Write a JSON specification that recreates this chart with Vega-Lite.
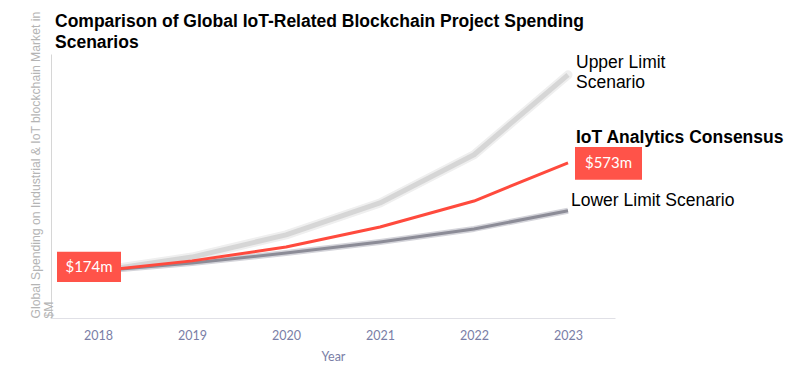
{
  "$schema": "https://vega.github.io/schema/vega-lite/v6.json",
  "autosize": "none",
  "width": 564,
  "height": 264,
  "padding": {"left": 51, "top": 54, "right": 185, "bottom": 47},
  "background": "white",
  "title": {
    "text": ["Comparison of Global IoT-Related Blockchain Project Spending", "Scenarios"],
    "anchor": "start",
    "frame": "group",
    "font": "Liberation Sans",
    "fontSize": 17.5,
    "fontWeight": "bold",
    "color": "#000000",
    "dx": 4,
    "dy": 29,
    "offset": -11,
    "lineHeight": 21
  },
  "config": {"view": {"stroke": null}},
  "datasets": {
    "series": [
      {"year": 2018, "value": 174, "scenario": "Upper"},
      {"year": 2019, "value": 225, "scenario": "Upper"},
      {"year": 2020, "value": 307, "scenario": "Upper"},
      {"year": 2021, "value": 425, "scenario": "Upper"},
      {"year": 2022, "value": 603, "scenario": "Upper"},
      {"year": 2023, "value": 898, "scenario": "Upper"},
      {"year": 2018, "value": 174, "scenario": "Lower"},
      {"year": 2019, "value": 203, "scenario": "Lower"},
      {"year": 2020, "value": 240, "scenario": "Lower"},
      {"year": 2021, "value": 281, "scenario": "Lower"},
      {"year": 2022, "value": 329, "scenario": "Lower"},
      {"year": 2023, "value": 396, "scenario": "Lower"},
      {"year": 2018, "value": 174, "scenario": "Consensus"},
      {"year": 2019, "value": 211, "scenario": "Consensus"},
      {"year": 2020, "value": 262, "scenario": "Consensus"},
      {"year": 2021, "value": 336, "scenario": "Consensus"},
      {"year": 2022, "value": 432, "scenario": "Consensus"},
      {"year": 2023, "value": 573, "scenario": "Consensus"}
    ],
    "labels": [
      {"year": 2023, "value": 898, "label": "Upper Limit\nScenario", "kind": "upper"},
      {"year": 2023, "value": 573, "label": "IoT Analytics Consensus", "kind": "consensus"},
      {"year": 2023, "value": 396, "label": "Lower Limit Scenario", "kind": "lower"},
      {"year": 2018, "value": 174, "label": "$174m", "kind": "startbox"},
      {"year": 2023, "value": 573, "label": "$573m", "kind": "endbox"}
    ]
  },
  "encoding": {
    "x": {
      "field": "year",
      "type": "ordinal",
      "scale": {"type": "point", "padding": 0.5},
      "axis": {
        "title": "Year",
        "labelAngle": 0,
        "ticks": false,
        "grid": false,
        "domainColor": "#e0e0e6",
        "labelColor": "#7a7ea6",
        "labelFont": "Lato",
        "labelFontSize": 12.5,
        "labelPadding": 11,
        "titleColor": "#7a7ea6",
        "titleFont": "Lato",
        "titleFontSize": 12.5,
        "titleFontWeight": "normal",
        "titlePadding": 9
      }
    },
    "y": {
      "field": "value",
      "type": "quantitative",
      "scale": {"domain": [0, 975], "nice": false},
      "axis": {
        "title": ["Global Spending on Industrial & IoT blockchain Market in", "$M"],
        "titleAnchor": "start",
        "labels": false,
        "ticks": false,
        "grid": false,
        "domainColor": "#d6d6d6",
        "titleColor": "#b4b4b4",
        "titleFont": "Liberation Sans",
        "titleFontSize": 12.2,
        "titleFontWeight": "normal",
        "titleLineHeight": 13,
        "titlePadding": -4
      }
    }
  },
  "layer": [
    {
      "data": {"name": "series"},
      "transform": [{"filter": "datum.scenario === 'Upper'"}],
      "mark": {"type": "line", "stroke": "#efefef", "strokeWidth": 9, "strokeCap": "round", "strokeJoin": "round"}
    },
    {
      "data": {"name": "series"},
      "transform": [{"filter": "datum.scenario === 'Upper'"}],
      "mark": {"type": "line", "stroke": "#d6d6d6", "strokeWidth": 5, "strokeJoin": "round"}
    },
    {
      "data": {"name": "series"},
      "transform": [{"filter": "datum.scenario === 'Lower'"}],
      "mark": {"type": "line", "stroke": "#d4d4da", "strokeWidth": 6, "strokeJoin": "round"}
    },
    {
      "data": {"name": "series"},
      "transform": [{"filter": "datum.scenario === 'Lower'"}],
      "mark": {"type": "line", "stroke": "#8c8c97", "strokeWidth": 3, "strokeJoin": "round"}
    },
    {
      "data": {"name": "series"},
      "transform": [{"filter": "datum.scenario === 'Consensus'"}],
      "mark": {"type": "line", "stroke": "#ff4a3d", "strokeWidth": 3, "strokeJoin": "round"}
    },
    {
      "data": {"name": "labels"},
      "transform": [{"filter": "datum.kind === 'startbox'"}],
      "mark": {"type": "point", "shape": "M-1,-0.47H1V0.47H-1Z", "size": 4096, "filled": true, "opacity": 1, "color": "#ff5349", "strokeWidth": 0, "xOffset": -9, "yOffset": -4}
    },
    {
      "data": {"name": "labels"},
      "transform": [{"filter": "datum.kind === 'startbox'"}],
      "mark": {"type": "text", "color": "#ffffff", "font": "Lato", "fontSize": 15, "dx": -9, "dy": -4, "align": "center", "baseline": "middle"},
      "encoding": {"text": {"field": "label"}}
    },
    {
      "data": {"name": "labels"},
      "transform": [{"filter": "datum.kind === 'endbox'"}],
      "mark": {"type": "point", "shape": "M-1,-0.49H1V0.49H-1Z", "size": 4489, "filled": true, "opacity": 1, "color": "#ff5349", "strokeWidth": 0, "xOffset": 40.5, "yOffset": 0.5}
    },
    {
      "data": {"name": "labels"},
      "transform": [{"filter": "datum.kind === 'endbox'"}],
      "mark": {"type": "text", "color": "#ffffff", "font": "Lato", "fontSize": 15, "dx": 40.5, "dy": 0.5, "align": "center", "baseline": "middle"},
      "encoding": {"text": {"field": "label"}}
    },
    {
      "data": {"name": "labels"},
      "transform": [{"filter": "datum.kind === 'upper'"}],
      "mark": {"type": "text", "color": "#000000", "font": "Liberation Sans", "fontSize": 17.5, "lineBreak": "\n", "lineHeight": 20, "dx": 8, "dy": -12, "align": "left", "baseline": "middle"},
      "encoding": {"text": {"field": "label"}}
    },
    {
      "data": {"name": "labels"},
      "transform": [{"filter": "datum.kind === 'consensus'"}],
      "mark": {"type": "text", "color": "#000000", "font": "Liberation Sans", "fontSize": 17.5, "fontWeight": "bold", "dx": 8, "dy": -25, "align": "left", "baseline": "middle"},
      "encoding": {"text": {"field": "label"}}
    },
    {
      "data": {"name": "labels"},
      "transform": [{"filter": "datum.kind === 'lower'"}],
      "mark": {"type": "text", "color": "#000000", "font": "Liberation Sans", "fontSize": 17.5, "dx": 3, "dy": -10, "align": "left", "baseline": "middle"},
      "encoding": {"text": {"field": "label"}}
    }
  ]
}
